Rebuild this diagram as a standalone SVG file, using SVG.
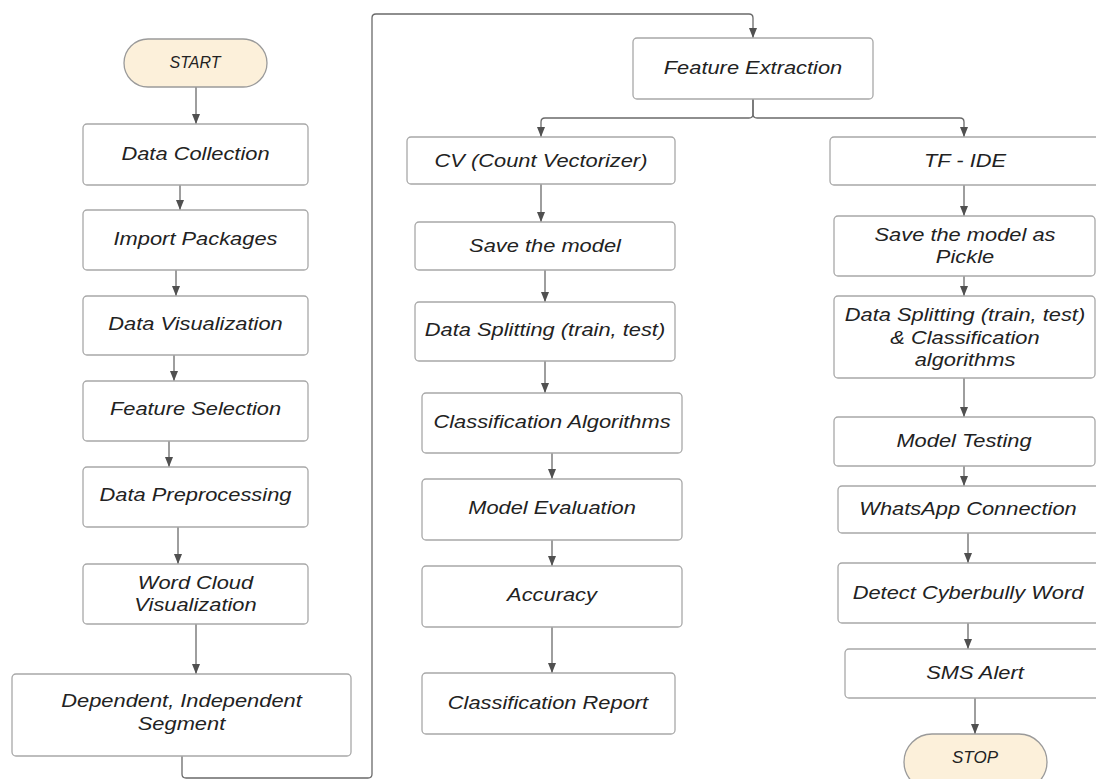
<svg xmlns="http://www.w3.org/2000/svg" width="1096" height="779" viewBox="0 0 1096 779">
<defs>
<marker id="arr" markerUnits="userSpaceOnUse" markerWidth="10" markerHeight="10" viewBox="0 0 10 10" refX="10" refY="5" orient="auto">
<path d="M0,1 L10,5 L0,9 z" fill="#505050"/>
</marker>
<style>
.box{fill:#ffffff;stroke:#a8a8a8;stroke-width:1.3}
.term{fill:#fcf0da;stroke:#9a9a9a;stroke-width:1.3}
.t{font-family:"Liberation Sans",Arial,sans-serif;font-style:italic;font-size:19px;fill:#222;text-anchor:middle;dominant-baseline:central}
.ts{font-size:16px}
.c{fill:none;stroke:#6a6a6a;stroke-width:1.3}
</style>
</defs>
<rect width="1096" height="779" fill="#ffffff"/>

<g id="connectors">
<path class="c" d="M196,87 V124" marker-end="url(#arr)"/>
<path class="c" d="M180,185 V210" marker-end="url(#arr)"/>
<path class="c" d="M176,270 V296" marker-end="url(#arr)"/>
<path class="c" d="M174,355 V381" marker-end="url(#arr)"/>
<path class="c" d="M169,441 V467" marker-end="url(#arr)"/>
<path class="c" d="M178,527 V564" marker-end="url(#arr)"/>
<path class="c" d="M196,624 V674" marker-end="url(#arr)"/>
<path class="c" d="M182,756 V774 Q182,778 186,778 H368 Q372,778 372,774 V18 Q372,14 376,14 H749 Q753,14 753,18 V38" marker-end="url(#arr)"/>
<path class="c" d="M753,99 V114 Q753,118 749,118 H545 Q541,118 541,122 V137" marker-end="url(#arr)"/>
<path class="c" d="M753,99 V114 Q753,118 757,118 H960 Q964,118 964,122 V137" marker-end="url(#arr)"/>
<path class="c" d="M541,184 V222" marker-end="url(#arr)"/>
<path class="c" d="M545,270 V302" marker-end="url(#arr)"/>
<path class="c" d="M545,361 V393" marker-end="url(#arr)"/>
<path class="c" d="M552,453 V479" marker-end="url(#arr)"/>
<path class="c" d="M552,540 V566" marker-end="url(#arr)"/>
<path class="c" d="M552,627 V673" marker-end="url(#arr)"/>
<path class="c" d="M964,185 V216" marker-end="url(#arr)"/>
<path class="c" d="M964,276 V296" marker-end="url(#arr)"/>
<path class="c" d="M964,378 V417" marker-end="url(#arr)"/>
<path class="c" d="M964,466 V486" marker-end="url(#arr)"/>
<path class="c" d="M968,533 V563" marker-end="url(#arr)"/>
<path class="c" d="M968,623 V649" marker-end="url(#arr)"/>
<path class="c" d="M975,698 V734" marker-end="url(#arr)"/>
</g>

<g id="start"><rect class="term" x="124" y="39" width="143" height="48" rx="24"/><text class="t ts" x="195" y="62">START</text></g>
<g id="data-collection"><rect class="box" x="83" y="124" width="225" height="61" rx="4"/><text class="t" transform="translate(195.5,153) scale(1.15,1)">Data Collection</text></g>
<g id="import-packages"><rect class="box" x="83" y="210" width="225" height="60" rx="4"/><text class="t" transform="translate(195.5,238) scale(1.15,1)">Import Packages</text></g>
<g id="data-visualization"><rect class="box" x="83" y="296" width="225" height="59" rx="4"/><text class="t" transform="translate(195.5,323) scale(1.15,1)">Data Visualization</text></g>
<g id="feature-selection"><rect class="box" x="83" y="381" width="225" height="60" rx="4"/><text class="t" transform="translate(195.5,408) scale(1.15,1)">Feature Selection</text></g>
<g id="data-preprocessing"><rect class="box" x="83" y="467" width="225" height="60" rx="4"/><text class="t" transform="translate(195.5,494) scale(1.15,1)">Data Preprocessing</text></g>
<g id="word-cloud"><rect class="box" x="83" y="564" width="225" height="60" rx="4"/><text class="t" transform="translate(195.5,582) scale(1.15,1)">Word Cloud</text><text class="t" transform="translate(195.5,604) scale(1.15,1)">Visualization</text></g>
<g id="dependent-independent"><rect class="box" x="12" y="674" width="339" height="82" rx="4"/><text class="t" transform="translate(181.5,700) scale(1.15,1)">Dependent, Independent</text><text class="t" transform="translate(181.5,723) scale(1.15,1)">Segment</text></g>

<g id="feature-extraction"><rect class="box" x="633" y="38" width="240" height="61" rx="4"/><text class="t" transform="translate(753,67) scale(1.15,1)">Feature Extraction</text></g>
<g id="cv"><rect class="box" x="407" y="137" width="268" height="47" rx="4"/><text class="t" transform="translate(541,160) scale(1.15,1)">CV (Count Vectorizer)</text></g>
<g id="save-model"><rect class="box" x="415" y="222" width="260" height="48" rx="4"/><text class="t" transform="translate(545,245) scale(1.15,1)">Save the model</text></g>
<g id="data-splitting"><rect class="box" x="415" y="302" width="260" height="59" rx="4"/><text class="t" transform="translate(545,329) scale(1.15,1)">Data Splitting (train, test)</text></g>
<g id="classification-algorithms"><rect class="box" x="422" y="393" width="260" height="60" rx="4"/><text class="t" transform="translate(552,421) scale(1.15,1)">Classification Algorithms</text></g>
<g id="model-evaluation"><rect class="box" x="422" y="479" width="260" height="61" rx="4"/><text class="t" transform="translate(552,507) scale(1.15,1)">Model Evaluation</text></g>
<g id="accuracy"><rect class="box" x="422" y="566" width="260" height="61" rx="4"/><text class="t" transform="translate(552,594) scale(1.15,1)">Accuracy</text></g>
<g id="classification-report"><rect class="box" x="422" y="673" width="253" height="61" rx="4"/><text class="t" transform="translate(548,702) scale(1.15,1)">Classification Report</text></g>

<g id="tf-ide"><rect class="box" x="830" y="137" width="275" height="48" rx="4"/><text class="t" transform="translate(965,160) scale(1.15,1)">TF - IDE</text></g>
<g id="save-pickle"><rect class="box" x="834" y="216" width="261" height="60" rx="4"/><text class="t" transform="translate(965,234) scale(1.15,1)">Save the model as</text><text class="t" transform="translate(965,256.5) scale(1.15,1)">Pickle</text></g>
<g id="data-splitting-2"><rect class="box" x="834" y="296" width="261" height="82" rx="4"/><text class="t" transform="translate(965,314.5) scale(1.15,1)">Data Splitting (train, test)</text><text class="t" transform="translate(965,337) scale(1.15,1)">&amp; Classification</text><text class="t" transform="translate(965,359.5) scale(1.15,1)">algorithms</text></g>
<g id="model-testing"><rect class="box" x="834" y="417" width="261" height="49" rx="4"/><text class="t" transform="translate(964,440) scale(1.15,1)">Model Testing</text></g>
<g id="whatsapp"><rect class="box" x="838" y="486" width="265" height="47" rx="4"/><text class="t" transform="translate(968,508) scale(1.15,1)">WhatsApp Connection</text></g>
<g id="detect"><rect class="box" x="838" y="563" width="265" height="60" rx="4"/><text class="t" transform="translate(968,592) scale(1.15,1)">Detect Cyberbully Word</text></g>
<g id="sms-alert"><rect class="box" x="845" y="649" width="260" height="49" rx="4"/><text class="t" transform="translate(975,672) scale(1.15,1)">SMS Alert</text></g>
<g id="stop"><rect class="term" x="904" y="734" width="143" height="56" rx="28"/><text class="t" x="975" y="757" style="font-size:17px">STOP</text></g>
</svg>
